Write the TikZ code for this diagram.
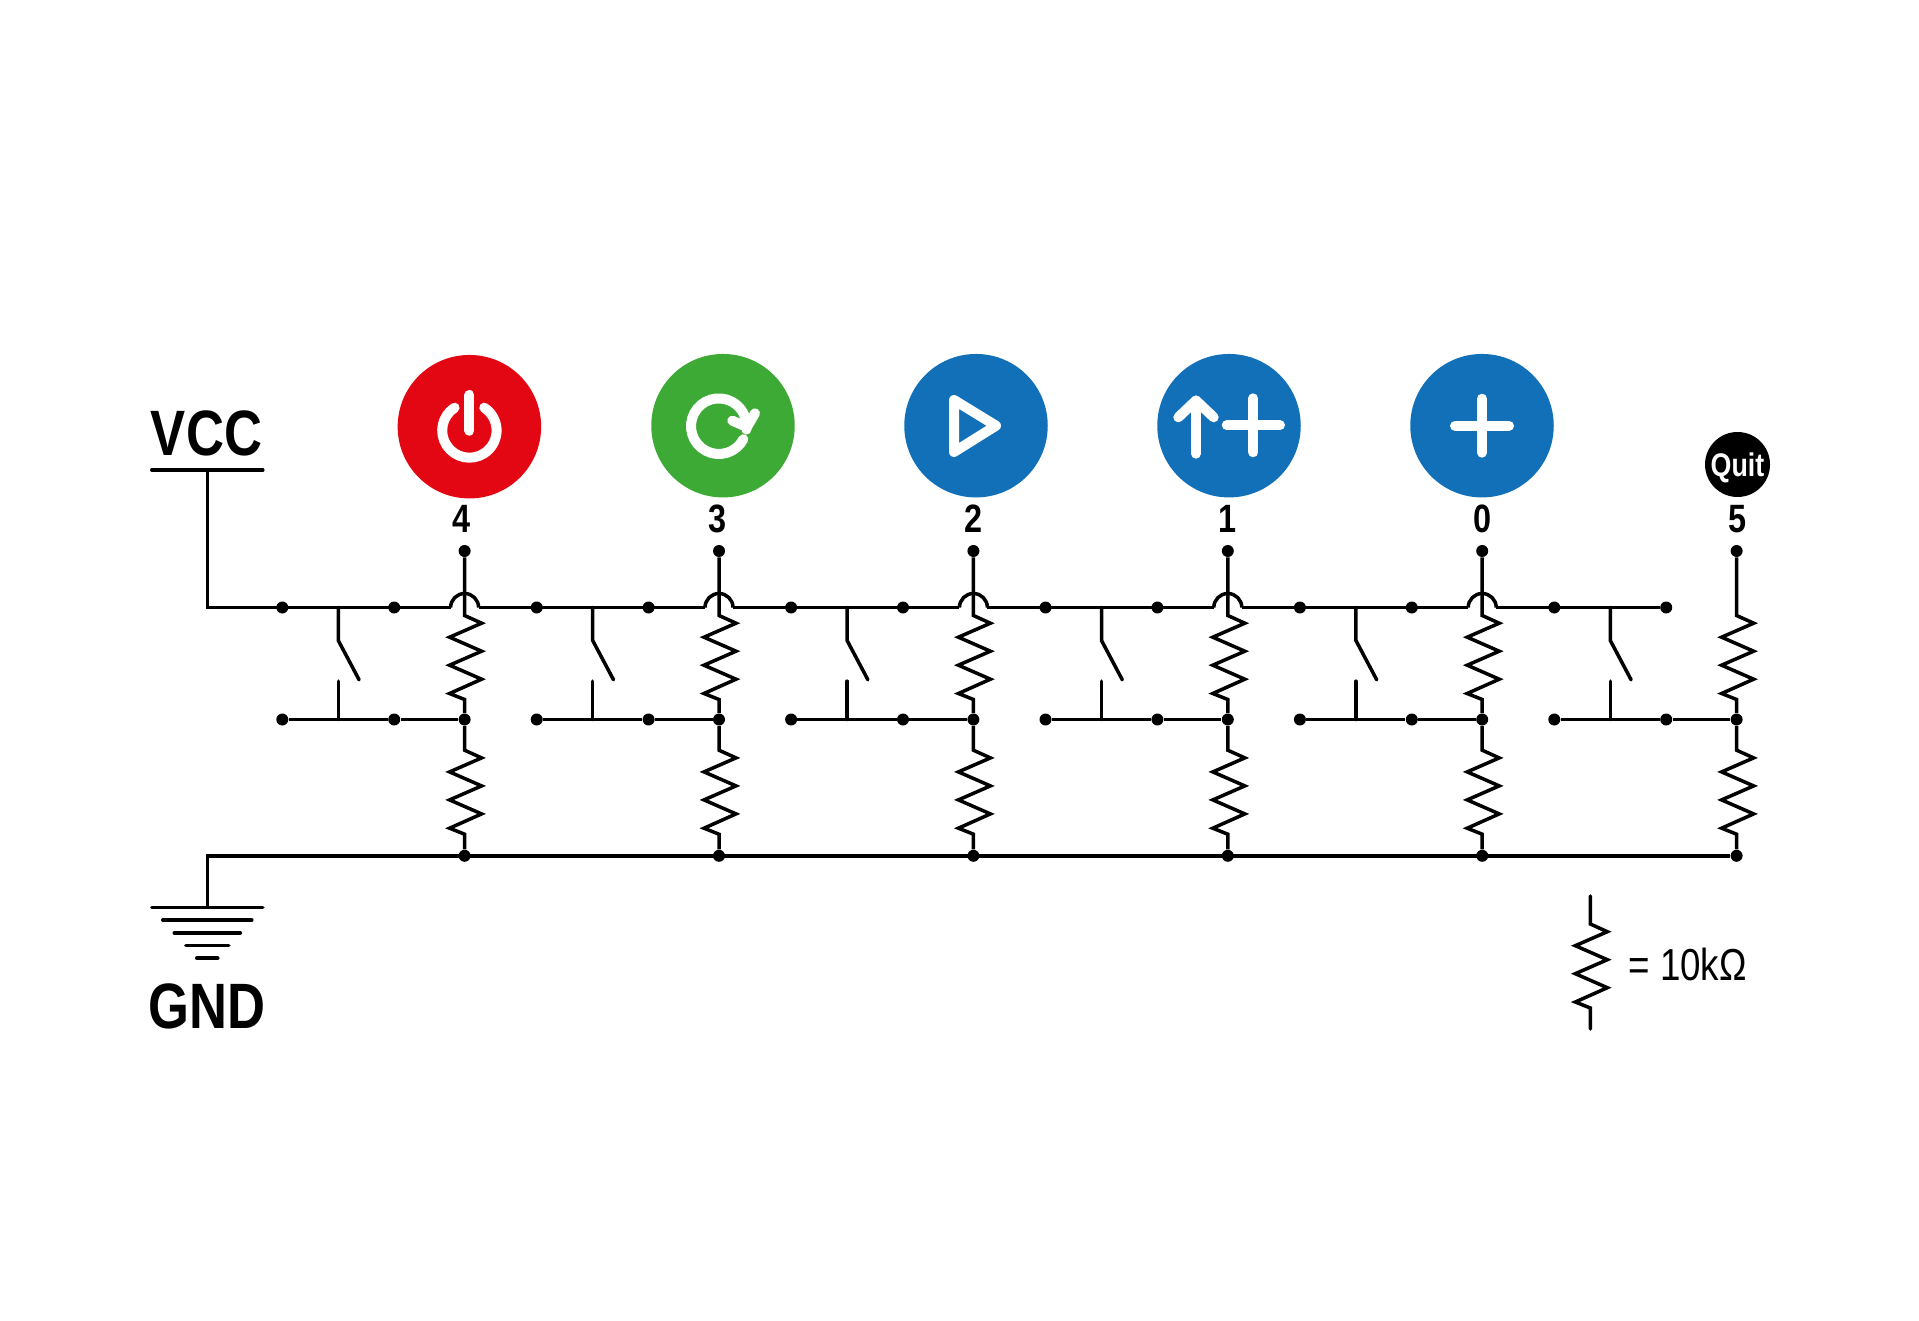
\documentclass[tikz,border=0pt]{standalone}
\usepackage{fontspec}
\newfontfamily\narrowfont[FakeStretch=0.82]{Liberation Sans}
\usetikzlibrary{calc}
\definecolor{btnred}{HTML}{E30613}
\definecolor{btngreen}{HTML}{3CAA35}
\definecolor{btnblue}{HTML}{1170B8}
\tikzset{
  wire/.style={line width=2pt},
  stub/.style={line width=2pt,line cap=round},
  joint/.style={circle,fill=black,inner sep=0pt,minimum size=0.24cm},
  button/.style={circle,inner sep=0pt,minimum size=2.87cm},
  icon/.style={white,line width=0.2cm,line cap=round,line join=round},
  bigtext/.style={inner sep=0pt,anchor=base,font=\narrowfont\bfseries\fontsize{36.5}{40}\selectfont},
  pintext/.style={inner sep=0pt,anchor=base,font=\narrowfont\bfseries\fontsize{22.5}{24}\selectfont},
  zigzag/.style={to path={-- ++(17,-7.7) -- ++(-32,-14) -- ++(32,-14) -- ++(-32,-14) -- ++(32,-14) -- ++(-32,-14.3) -- (\tikztotarget)}}
}
\begin{document}
\begin{tikzpicture}[x=0.02cm,y=0.02cm]
    \useasboundingbox (0,0) rectangle (1919,1320);
    \node [button,fill=btnred] (btn4) at (469.4,893.3) {};
    \node [button,fill=btngreen] (btn3) at (723,894.3) {};
    \node [button,fill=btnblue] (btn2) at (976,894.3) {};
    \node [button,fill=btnblue] (btn1) at (1229,894.3) {};
    \node [button,fill=btnblue] (btn0) at (1482,894.3) {};
    \node [circle,inner sep=0pt,minimum size=1.3cm,fill=black,text=white,text height=14pt,text depth=0pt,font=\narrowfont\bfseries\fontsize{18.6}{21}\selectfont] (btn5) at (1737.5,855.5) {Quit};
    \begin{scope}[shift={(btn4)}]
        \draw [icon] (0,31.7) -- (0,-4);
        \draw [icon] (0,-3.8) +(123:27.2) arc [start angle=123,end angle=417,radius=27.2];
    \end{scope}
    \begin{scope}[shift={(btn3)}]
        \draw [icon] (-4.2,-0.5) +(-28:27.8) arc [start angle=-28,end angle=-367,radius=27.8];
        \draw [icon] (9.3,5) -- (24,-1.3) -- (32,12.4);
    \end{scope}
    \begin{scope}[shift={(btn2)}]
        \draw [icon] (-22,25.7) -- (20,0) -- (-22,-26.3) -- cycle;
    \end{scope}
    \begin{scope}[shift={(btn1)}]
        \draw [icon] (-33,-28) -- (-33,25.2);
        \draw [icon] (-50.7,8.4) -- (-33,25.2) -- (-15.3,8.4);
        \draw [icon] (24.3,27.4) -- (24.3,-26.6);
        \draw [icon] (-2.3,0.4) -- (51,0.4);
    \end{scope}
    \begin{scope}[shift={(btn0)}]
        \draw [icon] (0,27) -- (0,-27);
        \draw [icon] (-27,0) -- (27,0);
    \end{scope}
    \node [bigtext] (vcclabel) at (206.5,864.3) {VCC};
    \node [bigtext] (gndlabel) at (207,292) {GND};
    \node [pintext] (num4) at (461.6,787) {4};
    \node [pintext] (num3) at (718,787) {3};
    \node [pintext] (num2) at (973,787) {2};
    \node [pintext] (num1) at (1227,787) {1};
    \node [pintext] (num0) at (1482,787) {0};
    \node [pintext] (num5) at (1737,787) {5};
    \coordinate (vcc) at (207.3,850);
    \coordinate (gnd) at (207.3,412.6);
    \draw [stub] (151.8,850) -- (262.8,850);
    \foreach \i/\w in {0/55.5,1/44.5,2/33,3/21.5,4/10.5}
        \draw [stub] ($(gnd)+(-\w,-12.7*\i)$) -- ($(gnd)+(\w,-12.7*\i)$);
    \foreach \cx/\n in {464.6/4,719/3,973.4/2,1227.8/1,1482.2/0,1736.6/5} {
        \node [joint] (pin\n) at (\cx,769) {};
        \node [joint] (topa\n) at (\cx-182.3,712.5) {};
        \node [joint] (topb\n) at (\cx-70.4,712.5) {};
        \node [joint] (lowa\n) at (\cx-182.3,600.5) {};
        \node [joint] (lowb\n) at (\cx-70.4,600.5) {};
        \node [joint] (mid\n) at (\cx,600.5) {};
        \node [joint] (bot\n) at (\cx,464.2) {};
        \coordinate (rtop\n) at (\cx,704.5);
        \coordinate (rend\n) at (\cx,620.5);
        \coordinate (stop\n) at (\cx,569.8);
        \coordinate (send\n) at (\cx,485.8);
        \coordinate (swup\n) at (\cx-126.3,712.5);
        \coordinate (hinge\n) at (\cx-126.3,679.5);
        \coordinate (blade\n) at (\cx-105.5,640.2);
        \coordinate (post\n) at (\cx-126.3,638.8);
        \coordinate (swlow\n) at (\cx-126.3,600.5);
        \draw [wire] (pin\n) -- (rtop\n) to [zigzag] (rend\n) -- (mid\n);
        \draw [wire] (mid\n) -- (stop\n) to [zigzag] (send\n) -- (bot\n);
        \draw [wire] (lowa\n) -- (lowb\n) -- (mid\n);
        \draw [stub] (swup\n) -- (hinge\n) -- (blade\n);
        \draw [stub] (post\n) -- (swlow\n);
    }
    \foreach \cx/\n in {464.6/4,719/3,973.4/2,1227.8/1,1482.2/0} {
        \coordinate (hopl\n) at (\cx-14,712.5);
        \coordinate (hopr\n) at (\cx+14,712.5);
        \draw [wire] (hopl\n) arc [start angle=180,end angle=0,radius=14];
    }
    \draw [wire] (vcc) |- (hopl4);
    \foreach \a/\b in {hopr4/hopl3,hopr3/hopl2,hopr2/hopl1,hopr1/hopl0,hopr0/topb5}
        \draw [wire] (\a) -- (\b);
    \draw [wire] (gnd) |- (bot5);
    \coordinate (legtop) at (1590.3,424);
    \coordinate (legzig) at (1590.3,396);
    \coordinate (legend) at (1590.3,312);
    \coordinate (legbot) at (1590.3,291);
    \draw [stub] (legtop) -- (legzig) to [zigzag] (legend) -- (legbot);
    \node [inner sep=0pt,anchor=base west,font=\narrowfont\fontsize{25.5}{28}\selectfont] (legtext) at (1628,340) {= 10kΩ};
\end{tikzpicture}
\end{document}
